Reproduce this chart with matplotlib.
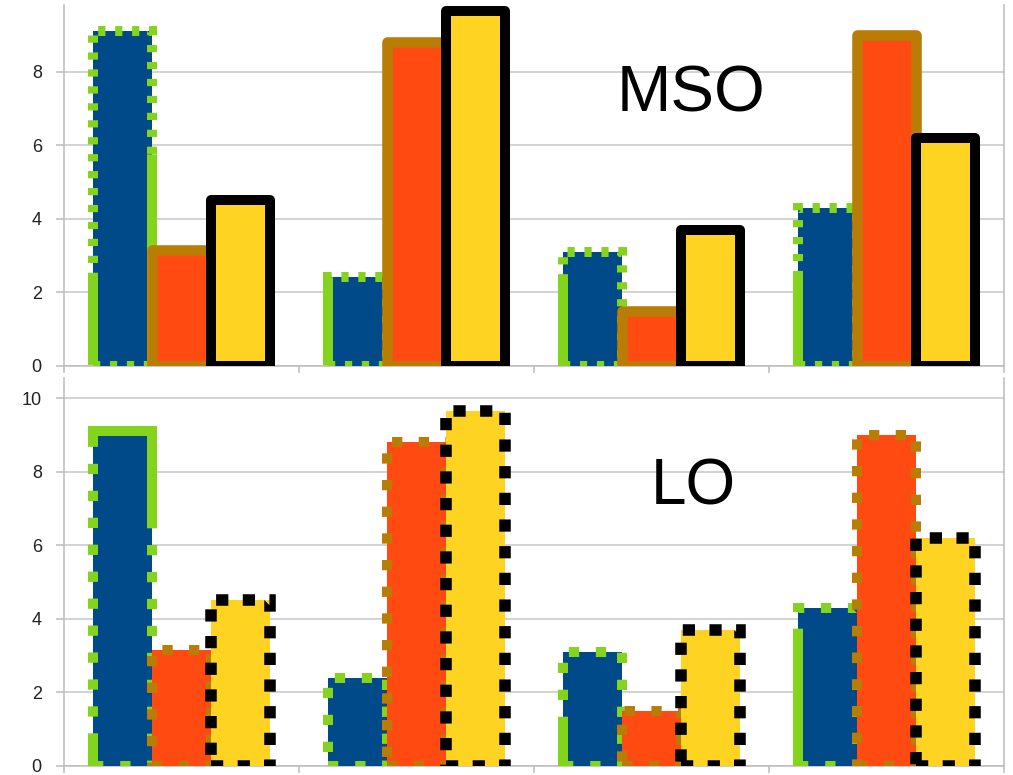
import matplotlib
matplotlib.use('Agg')
import matplotlib.pyplot as plt
import numpy as np

plt.rcParams['font.family'] = ['Liberation Sans', 'DejaVu Sans']
plt.rcParams['lines.scale_dashes'] = False

# ---- data ----
categories = ['Cat 1', 'Cat 2', 'Cat 3', 'Cat 4']
series1 = [9.1, 2.4, 3.1, 4.3]
series2 = [3.15, 8.8, 1.5, 9.0]
series3 = [4.5, 9.65, 3.7, 6.2]
yticks_top = [0, 2, 4, 6, 8]
yticks_bottom = [0, 2, 4, 6, 8, 10]
panel_labels = ['MSO', 'LO']

fill_colors = ['#004a8a', '#ff4a12', '#ffd322']
edge_colors = ['#84d41e', '#b97d05', '#000000']

W, H = 1013, 775
fig = plt.figure(figsize=(W / 100, H / 100), dpi=100)
ax_top = fig.add_axes([64 / W, 1 - 365.7 / H, 940 / W, 360.7 / H])
ax_bot = fig.add_axes([64 / W, 1 - 765.7 / H, 940 / W, 388.0 / H])

x = np.arange(len(categories))
width = 0.25
offsets = [-width, 0, width]
all_series = [series1, series2, series3]
PT = 72 / 100.0  # points per pixel

def dots(on, off, n):
    out = []
    for _ in range(n):
        out += [on, off]
    return out

bot_green = [124, 12.2] + dots(7.4, 12.0, 10)

# solid-dash overlay on the mixed green outline (pixels):
# long dash, gap, short dash ending at the bottom-left corner, gap
LONG_PX, GAP_A, SHORT_PX, GAP_B = 210, 426, 90, 320
PERIOD_PX = LONG_PX + GAP_A + SHORT_PX + GAP_B

def overlay_style(p):
    bb = p.get_window_extent()
    perim = 2 * (bb.width + bb.height)
    s0 = perim - SHORT_PX - GAP_A - LONG_PX  # path position of long-dash start
    off = (-s0) % PERIOD_PX
    pat = [LONG_PX * PT, GAP_A * PT, SHORT_PX * PT, GAP_B * PT]
    return (off * PT, pat)

top_styles = [
    dict(lw=7.2, layers=[(0, (5.2, 7.0)), 'overlay'], cap='butt', join='miter'),
    dict(lw=7.6, layers=['solid'], cap='butt', join='round'),
    dict(lw=7.2, layers=['solid'], cap='butt', join='round'),
]
bot_styles = [
    dict(lw=7.2, layers=[(116.6, bot_green)], cap='butt', join='miter'),
    dict(lw=7.2, layers=[(0, (7.4, 11.8))], cap='butt', join='miter'),
    dict(lw=8.3, layers=[(0, (8.8, 10.4))], cap='butt', join='miter'),
]

def style_axes(ax, yticks, ymax):
    ax.set_xlim(-0.5, len(categories) - 0.5)
    ax.set_ylim(0, ymax)
    ax.set_yticks(yticks)
    ax.set_xticks(np.arange(len(categories) + 1) - 0.5)
    ax.set_xticklabels([])
    ax.yaxis.grid(True, color='#c6c6c6', lw=1.1)
    ax.set_axisbelow(True)
    for s in ['left', 'right', 'bottom']:
        ax.spines[s].set_color('#bcbcbc')
        ax.spines[s].set_linewidth(1.1)
    ax.spines['top'].set_visible(False)
    ax.tick_params(axis='y', length=6, width=1.1, color='#bcbcbc',
                   labelsize=13, labelcolor='#222222', pad=10)
    ax.tick_params(axis='x', length=5, width=1.1, color='#bcbcbc')

def draw_bars(ax, styles):
    for i, (vals, st) in enumerate(zip(all_series, styles)):
        for k, ls in enumerate(st['layers']):
            bars = ax.bar(x + offsets[i], vals, width,
                          color=fill_colors[i] if k == 0 else 'none',
                          edgecolor=edge_colors[i], linewidth=st['lw'],
                          zorder=3 + i + 0.1 * k)
            for p in bars:
                p.set_linestyle(overlay_style(p) if ls == 'overlay' else ls)
                p.set_capstyle(st['cap'])
                p.set_joinstyle(st['join'])

style_axes(ax_top, yticks_top, 9.81)
style_axes(ax_bot, yticks_bottom, 10.56)
draw_bars(ax_top, top_styles)
draw_bars(ax_bot, bot_styles)

ax_top.text(2.17, 6.9, panel_labels[0], fontsize=47, ha='center', va='baseline', zorder=10)
ax_bot.text(2.18, 7.1, panel_labels[1], fontsize=46, ha='center', va='baseline', zorder=10)

fig.savefig('out.png', dpi=100)
